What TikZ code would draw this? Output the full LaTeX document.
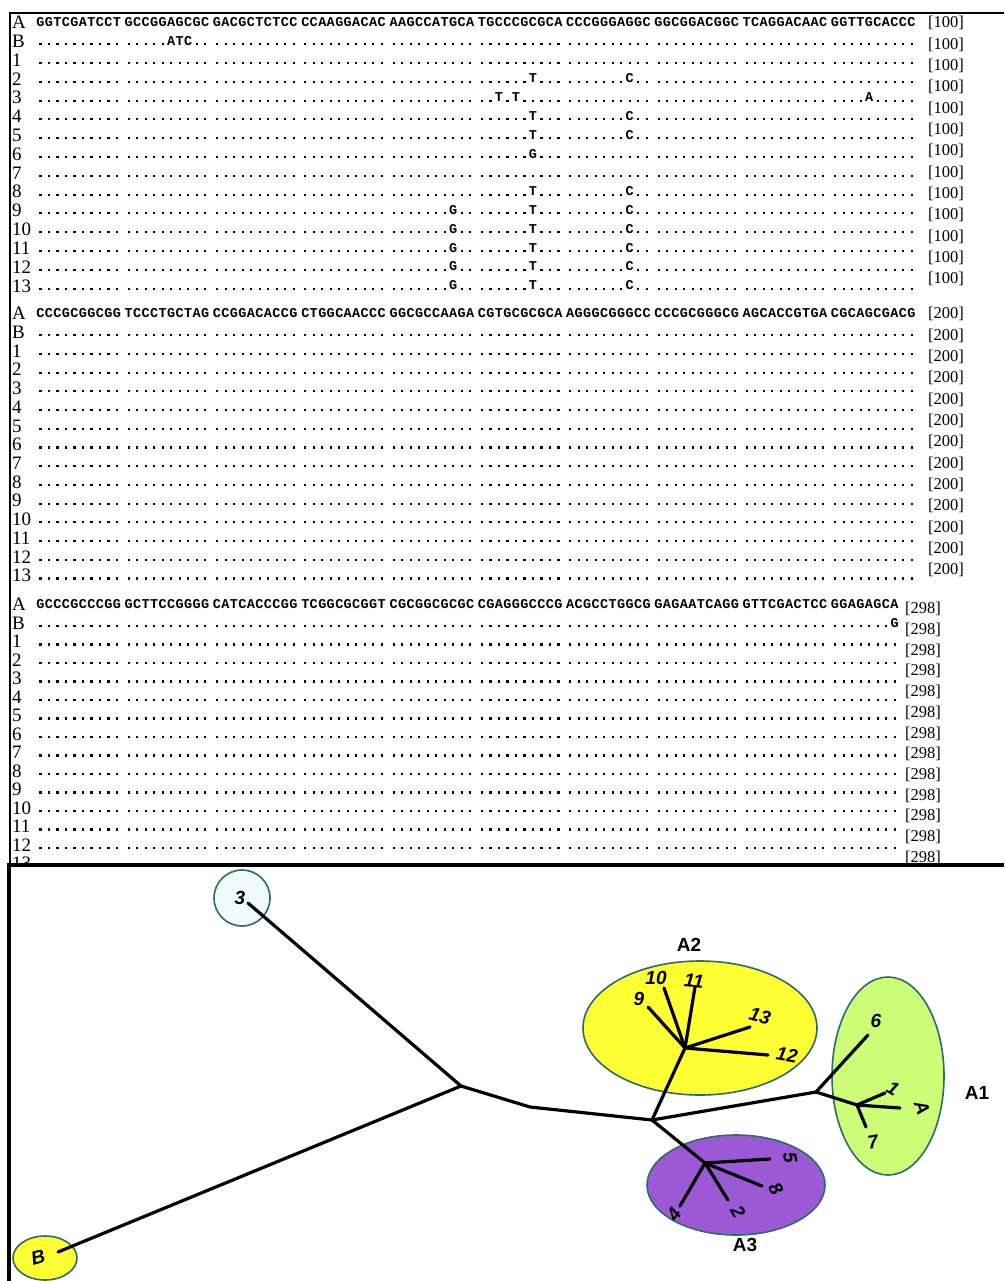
\documentclass[tikz,border=0pt]{standalone}
\usepackage{fontspec}
\setmainfont{Liberation Serif}
\newfontfamily\seqfont{Liberation Mono}
\newfontfamily\treefont{Liberation Sans}
\usetikzlibrary{shapes.geometric}
\definecolor{teal2}{HTML}{2B6B6B}
\definecolor{ylw}{HTML}{FFFF33}
\definecolor{lgrn}{HTML}{CCFF77}
\definecolor{purp}{HTML}{9B59D6}
\definecolor{lcyan}{HTML}{F0FBFB}
\makeatletter
\newcommand\seqrow[1]{\edef\sq@tmp{#1}\expandafter\sq@scan\sq@tmp\@nil}
\def\sq@scan#1{\ifx#1\@nil\else\sq@char{#1}\expandafter\sq@scan\fi}
\def\sq@char#1{\if#1/\hspace*{3.3pt}\else\if#1.\makebox[8.5pt]{\rule{2.1pt}{2.1pt}}\else\makebox[8.5pt]{#1}\fi\fi}
\makeatother
\newcommand\Dt{..........}
\newcommand\Dall{\Dt/\Dt/\Dt/\Dt/\Dt/\Dt/\Dt/\Dt/\Dt/\Dt}
\newcommand\Dlast{\Dt/\Dt/\Dt/\Dt/\Dt/\Dt/\Dt/\Dt/\Dt/........}
\newcommand\TCrow{\Dt/\Dt/\Dt/\Dt/\Dt/......T.../.......C../\Dt/\Dt/\Dt}
\newcommand\GTCrow{\Dt/\Dt/\Dt/\Dt/.......G../......T.../.......C../\Dt/\Dt/\Dt}
\begin{document}
\begin{tikzpicture}[x=1pt,y=-1pt,
  lab/.style={anchor=base west,inner sep=0,yshift=-6.8pt,font=\fontsize{19}{19}\selectfont},
  sq/.style={anchor=base west,inner sep=0,yshift=-4.5pt,font=\seqfont\bfseries\fontsize{13.5}{13.5}\selectfont},
  num/.style={anchor=base west,inner sep=0,yshift=-5.8pt,font=\fontsize{16.5}{16.5}\selectfont},
  br/.style={line width=3.2pt,line cap=round},
  grp/.style={ellipse,draw=teal2,line width=1.6pt,inner sep=0},
  tl/.style={font=\treefont\bfseries\itshape\fontsize{19}{19}\selectfont,inner sep=0},
  cl/.style={font=\treefont\bfseries\fontsize{19}{19}\selectfont,inner sep=0}]
\useasboundingbox (0,0) rectangle (1004,1281);
\fill[white] (0,0) rectangle (1004,1281);
% ---------- block 1
\node[lab] (b1lA) at (12,22) {A};
\node[sq] (b1sA) at (36,22) {\seqrow{GGTCGATCCT/GCCGGAGCGC/GACGCTCTCC/CCAAGGACAC/AAGCCATGCA/TGCCCGCGCA/CCCGGGAGGC/GGCGGACGGC/TCAGGACAAC/GGTTGCACCC}};
\node[lab] (b1lB) at (12,40.8) {B};
\node[sq] (b1sB) at (36,40.8) {\seqrow{\Dt/.....ATC../\Dt/\Dt/\Dt/\Dt/\Dt/\Dt/\Dt/\Dt}};
\node[lab] (b1l3) at (12,97.2) {3};
\node[sq] (b1s3) at (36,97.2) {\seqrow{\Dt/\Dt/\Dt/\Dt/\Dt/..T.T...../\Dt/\Dt/\Dt/....A.....}};
\node[lab] (b1l6) at (12,153.6) {6};
\node[sq] (b1s6) at (36,153.6) {\seqrow{\Dt/\Dt/\Dt/\Dt/\Dt/......G.../\Dt/\Dt/\Dt/\Dt}};
\foreach \r/\yy in {1/59.6,7/172.4}{
  \node[lab] (b1l\r) at (12,\yy) {\r};
  \node[sq] (b1s\r) at (36,\yy) {\seqrow{\Dall}};}
\foreach \r/\yy in {2/78.4,4/116,5/134.8,8/191.2}{
  \node[lab] (b1l\r) at (12,\yy) {\r};
  \node[sq] (b1s\r) at (36,\yy) {\seqrow{\TCrow}};}
\foreach \r/\yy in {9/210,10/228.8,11/247.6,12/266.4,13/285.2}{
  \node[lab] (b1l\r) at (12,\yy) {\r};
  \node[sq] (b1s\r) at (36,\yy) {\seqrow{\GTCrow}};}
\foreach \k in {0,...,12}{\node[num] (b1n\k) at (928,{22+21.33*\k}) {[100]};}
% ---------- block 2
\node[lab] (b2lA) at (12,313) {A};
\node[sq] (b2sA) at (36,313) {\seqrow{CCCGCGGCGG/TCCCTGCTAG/CCGGACACCG/CTGGCAACCC/GGCGCCAAGA/CGTGCGCGCA/AGGGCGGGCC/CCCGCGGGCG/AGCACCGTGA/CGCAGCGACG}};
\foreach \r/\yy in {B/331.7,1/350.4,2/369.1,3/387.9,4/406.6,5/425.3,6/444,7/462.7,8/481.4,9/500.1,10/518.8,11/537.5,12/556.3,13/575}{
  \node[lab] (b2l\r) at (12,\yy) {\r};
  \node[sq] (b2s\r) at (36,\yy) {\seqrow{\Dall}};}
\foreach \k in {0,...,12}{\node[num] (b2n\k) at (928,{313+21.33*\k}) {[200]};}
% ---------- block 3
\node[lab] (b3lA) at (12,604) {A};
\node[sq] (b3sA) at (36,604) {\seqrow{GCCCGCCCGG/GCTTCCGGGG/CATCACCCGG/TCGGCGCGGT/CGCGGCGCGC/CGAGGGCCCG/ACGCCTGGCG/GAGAATCAGG/GTTCGACTCC/GGAGAGCA}};
\node[lab] (b3lB) at (12,622.5) {B};
\node[sq] (b3sB) at (36,622.5) {\seqrow{\Dt/\Dt/\Dt/\Dt/\Dt/\Dt/\Dt/\Dt/\Dt/.......G}};
\foreach \r/\yy in {1/641,2/659.5,3/678,4/696.5,5/715,6/733.5,7/752,8/770.5,9/789,10/807.5,11/826,12/844.5,13/863}{
  \node[lab] (b3l\r) at (12,\yy) {\r};
  \node[sq] (b3s\r) at (36,\yy) {\seqrow{\Dlast}};}
\foreach \k in {0,...,12}{\node[num] (b3n\k) at (905,{608+20.7*\k}) {[298]};}
% frames
\fill[white] (10,866) rectangle (1004,1281);
\draw[line width=1.5pt] (1004,13) -- (10,13) -- (10,866);
\draw[line width=4pt] (1004,865) -- (7,865);
\draw[line width=4pt] (9,863) -- (9,1281);
% ---------- tree
\node[grp,circle,fill=lcyan,minimum size=56pt] (c3) at (242,898) {};
\node[grp,fill=ylw,minimum width=64pt,minimum height=44pt] (eB) at (45,1258) {};
\node[grp,fill=ylw,minimum width=234pt,minimum height=134pt] (eA2) at (700,1028) {};
\node[grp,fill=lgrn,minimum width=112pt,minimum height=198pt] (eA1) at (888,1076) {};
\node[grp,fill=purp,minimum width=178pt,minimum height=100pt] (eA3) at (736,1185) {};
\coordinate (t3) at (248,903);
\coordinate (tB) at (58,1252);
\coordinate (j1) at (461,1086);
\coordinate (j2) at (530,1107);
\coordinate (j3) at (652,1120);
\coordinate (h2) at (685,1048);
\coordinate (h3) at (705,1163);
\coordinate (h1) at (816,1092);
\coordinate (s1) at (857,1105);
\coordinate (e9) at (648,1007);
\coordinate (e10) at (664,988);
\coordinate (e11) at (695,987);
\coordinate (e13) at (750,1027);
\coordinate (e12) at (768,1055);
\coordinate (e6) at (868,1035);
\coordinate (e1) at (885,1093);
\coordinate (eA) at (900,1108);
\coordinate (e7) at (866,1127);
\coordinate (e5) at (770,1159);
\coordinate (e8) at (762,1186);
\coordinate (e2) at (728,1200);
\coordinate (e4) at (680,1206);
\draw[br] (t3) -- (j1) -- (tB);
\draw[br] (j1) -- (j2) -- (j3);
\draw[br] (j3) -- (h2); \draw[br] (j3) -- (h3); \draw[br] (j3) -- (h1);
\foreach \e in {e9,e10,e11,e13,e12}{\draw[br] (h2) -- (\e);}
\draw[br] (h1) -- (e6); \draw[br] (h1) -- (s1);
\foreach \e in {e1,eA,e7}{\draw[br] (s1) -- (\e);}
\foreach \e in {e5,e8,e2,e4}{\draw[br] (h3) -- (\e);}
% labels
\node[tl] (L3) at (240,898) {3};
\node[tl,rotate=15] (LB) at (38,1257) {B};
\node[tl] (L9) at (639,999) {9};
\node[tl] (L10) at (656,978) {10};
\node[tl,rotate=-5] (L11) at (694,981) {11};
\node[tl,rotate=-15] (L13) at (760,1016) {13};
\node[tl,rotate=-10] (L12) at (787,1055) {12};
\node[tl] (L6) at (876,1021) {6};
\node[tl,rotate=-30] (L1) at (893,1088) {1};
\node[tl,rotate=-70] (LA) at (922,1108) {A};
\node[tl,rotate=10] (L7) at (873,1142) {7};
\node[tl,rotate=-80] (L5) at (790,1158) {5};
\node[tl,rotate=-60] (L8) at (776,1189) {8};
\node[tl,rotate=-60] (L2) at (738,1212) {2};
\node[tl,rotate=55] (L4) at (674,1214) {4};
\node[cl] (LA1) at (977,1093) {A1};
\node[cl] (LA2) at (689,945) {A2};
\node[cl] (LA3) at (745,1245) {A3};
\end{tikzpicture}
\end{document}
